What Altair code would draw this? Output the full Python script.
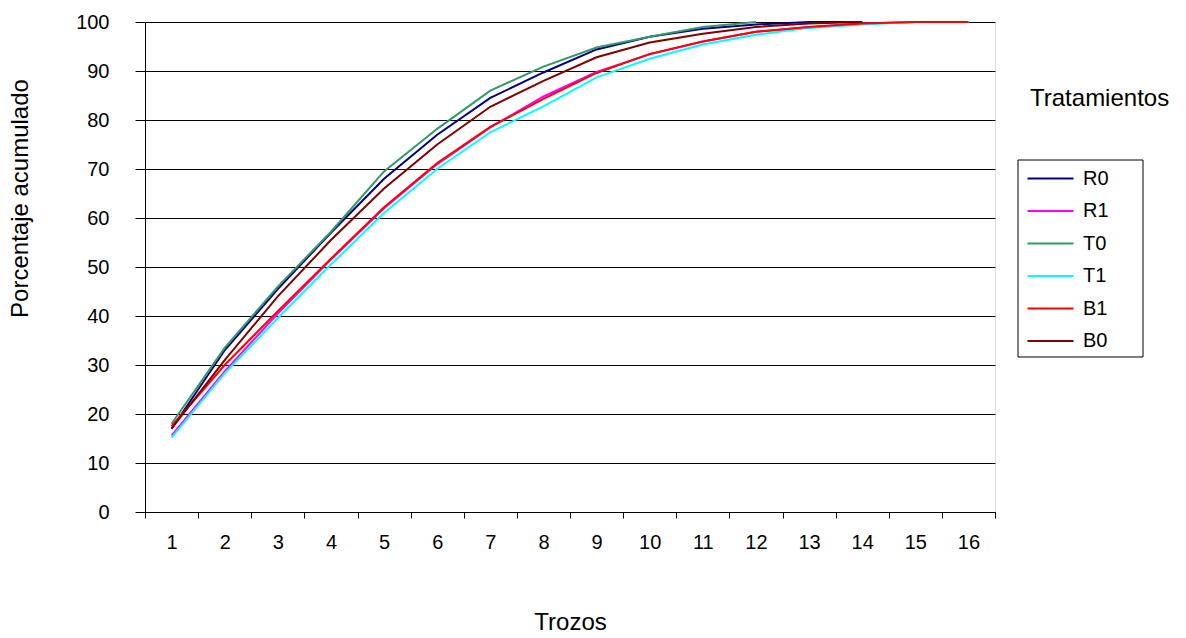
import altair as alt
import pandas as pd

trozos = list(range(1, 17))
series = ["R0", "R1", "T0", "T1", "B1", "B0"]
colors = ["#000080", "#FF00FF", "#339966", "#00FFFF", "#FF0000", "#800000"]

R0 = [17.0, 33.0, 45.5, 57.0, 68.0, 77.0, 84.5, 89.7, 94.4, 97.0, 98.6, 99.5, 100.0, 100.0]
R1 = [15.6, 28.7, 40.5, 51.5, 62.0, 71.0, 78.5, 84.8, 89.8, 93.4, 96.0, 98.0, 99.0, 99.7, 100.0, 100.0]
T0 = [18.0, 33.5, 46.0, 57.2, 69.5, 78.2, 86.0, 90.9, 94.8, 97.0, 99.0, 100.0]
T1 = [15.2, 28.3, 39.6, 50.5, 61.0, 70.0, 77.5, 82.8, 88.7, 92.5, 95.4, 97.4, 98.8, 99.5, 100.0, 100.0]
B1 = [17.5, 30.0, 41.0, 51.7, 62.2, 71.2, 78.6, 84.3, 89.6, 93.5, 96.0, 98.0, 99.0, 99.7, 100.0, 100.0]
B0 = [17.0, 31.0, 44.0, 55.5, 66.0, 75.0, 82.7, 88.0, 92.8, 95.8, 97.6, 99.0, 99.7, 100.0]

values = {"R0": R0, "R1": R1, "T0": T0, "T1": T1, "B1": B1, "B0": B0}
rows = []
for s in series:
    for i, v in enumerate(values[s]):
        rows.append({"Trozo": trozos[i], "Tratamiento": s, "Valor": v,
                     "orden": series.index(s)})
df = pd.DataFrame(rows)

FONT = "Liberation Sans"

lines = alt.Chart(df).mark_line(strokeWidth=2, clip=False).encode(
    x=alt.X("Trozo:O",
            scale=alt.Scale(type="band", paddingInner=0, paddingOuter=0, domain=trozos),
            bandPosition=0.5,
            axis=alt.Axis(title="Trozos", labelAngle=0, tickBand="extent",
                          grid=False, domainColor="#000000", tickColor="#000000",
                          tickSize=6, labelPadding=14, labelFontSize=20,
                          labelFont=FONT, labelColor="#000000",
                          titleFont=FONT, titleFontSize=24, titleFontWeight="normal",
                          titleColor="#000000", titlePadding=58)),
    y=alt.Y("Valor:Q",
            scale=alt.Scale(domain=[0, 100], nice=False),
            axis=alt.Axis(title="Porcentaje acumulado", values=list(range(0, 101, 10)),
                          grid=True, gridColor="#000000", gridWidth=1,
                          domainColor="#000000", tickColor="#000000", tickSize=10,
                          labelPadding=26, labelFontSize=20, labelFont=FONT,
                          labelColor="#000000", titleFont=FONT, titleFontSize=24,
                          titleFontWeight="normal", titleColor="#000000",
                          titleAngle=-90, titleX=-125, titleY=176,
                          titleBaseline="middle", titleAlign="center")),
    color=alt.Color("Tratamiento:N",
                    scale=alt.Scale(domain=series, range=colors),
                    sort=series,
                    legend=alt.Legend(title=None, orient="none", legendX=873, legendY=138,
                                      symbolType="M-2,0H2", symbolSize=529,
                                      symbolStrokeWidth=2, symbolOffset=14,
                                      labelFontSize=20,
                                      labelFont=FONT, labelColor="#000000",
                                      labelOffset=20, rowPadding=9.5,
                                      strokeColor=None if False else "transparent",
                                      padding=6, cornerRadius=0)),
    order=alt.Order("orden:Q"),
    detail="Tratamiento:N",
)

legend_frame = alt.Chart(pd.DataFrame({"k": [0]})).mark_rect(
    fill="#FFFFFF", stroke="#000000", strokeWidth=1
).encode(x=alt.value(873), x2=alt.value(998), y=alt.value(138), y2=alt.value(335))

title_text = alt.Chart(pd.DataFrame({"t": ["Tratamientos"]})).mark_text(
    font=FONT, fontSize=24, color="#000000", align="left", baseline="middle"
).encode(text="t:N", x=alt.value(885), y=alt.value(77))

chart = alt.layer(lines, legend_frame, title_text).properties(
    width=850, height=490,
    padding={"left": 145, "top": 22, "right": 191, "bottom": 126},
    autosize=alt.AutoSizeParams(type="none"),
).configure_view(stroke="#808080", strokeWidth=1.5).configure(background="#FFFFFF")

chart.save("out.html", embed_options={"renderer": "svg", "actions": False})
